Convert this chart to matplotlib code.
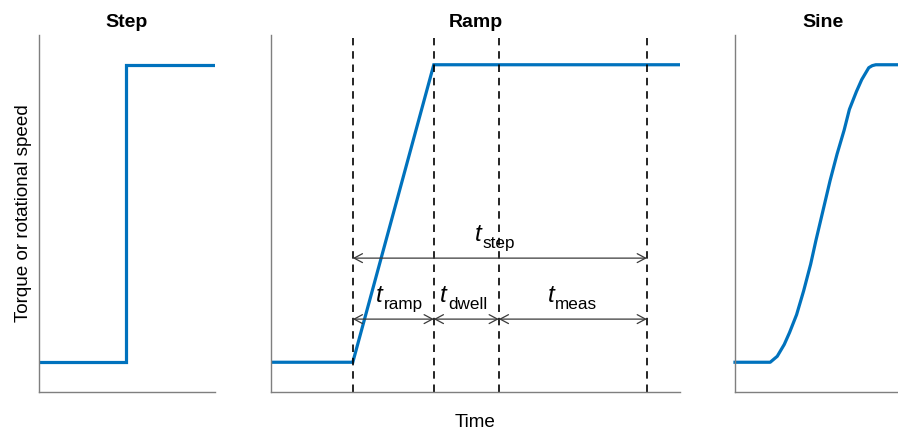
import matplotlib
matplotlib.use("Agg")
import matplotlib.pyplot as plt

plt.rcParams['font.family'] = ['Liberation Sans', 'DejaVu Sans']

# step signal
step_x = [0, 0.495, 0.495, 1.0]
step_y = [0, 0, 1, 1]

# ramp signal and its time marks
ramp_x = [0, 0.2, 0.398, 1.0]
ramp_y = [0, 0, 1, 1]
marks = [0.2, 0.398, 0.557, 0.919]  # ramp start, ramp end, dwell end, meas end
sub_names = ["ramp", "dwell", "meas"]

# sine-shaped transition
sine_x = [0, 0.20, 0.22, 0.24, 0.26, 0.28, 0.31, 0.35, 0.39, 0.43, 0.46, 0.50,
          0.54, 0.58, 0.62, 0.65, 0.69, 0.72, 0.74, 0.76, 0.78, 0.80, 1.0]
sine_y = [0, 0, 0.01, 0.02, 0.04, 0.06, 0.10, 0.16, 0.24, 0.33, 0.41, 0.51,
          0.61, 0.70, 0.78, 0.85, 0.91, 0.95, 0.97, 0.99, 0.997, 1.0, 1.0]

blue = "#0072BD"
spine_col = "#7f7f7f"

fig = plt.figure(figsize=(8.98, 4.32), dpi=100)
W, H = 898, 432
bottom = (H - 392) / H
height = 357 / H

def make_ax(left_px, width_px):
    ax = fig.add_axes([left_px / W, bottom, width_px / W, height])
    ax.set_xlim(0, 1)
    ax.set_ylim(-0.1, 1.1)
    ax.set_xticks([])
    ax.set_yticks([])
    ax.spines['top'].set_visible(False)
    ax.spines['right'].set_visible(False)
    for s in ['left', 'bottom']:
        ax.spines[s].set_color(spine_col)
        ax.spines[s].set_linewidth(1.0)
    return ax

ax1 = make_ax(39, 176)
ax2 = make_ax(271, 409)
ax3 = make_ax(735, 176)

ax1.plot(step_x, step_y, color=blue, lw=2.3, solid_joinstyle='miter')
ax1.set_title("Step", fontsize=14, fontweight='bold', pad=6)
ax1.set_ylabel("Torque or rotational speed", fontsize=13.6, labelpad=5)

ax2.plot(ramp_x, ramp_y, color=blue, lw=2.3, solid_joinstyle='miter')
ax2.set_title("Ramp", fontsize=14, fontweight='bold', pad=6)
ax2.set_xlabel("Time", fontsize=13.6, labelpad=16)
for m in marks:
    ax2.plot([m, m], [-0.1, 1.09], color='black', lw=1.2, linestyle=(0, (4.5, 3.5)))

arrow_kw = dict(arrowstyle='<->,head_length=0.6,head_width=0.32', color='#3a3a3a',
                lw=0.9, shrinkA=0, shrinkB=0)
y_step = 0.35
y_low = 0.145
ax2.annotate("", xy=(marks[0], y_step), xytext=(marks[3], y_step), arrowprops=arrow_kw)
for a, b in zip(marks[:-1], marks[1:]):
    ax2.annotate("", xy=(a, y_low), xytext=(b, y_low), arrowprops=arrow_kw)

# labels: italic t plus a lowered subscript, roughly centred over each arrow
labels = [((marks[0] + marks[3]) / 2, y_step, "step")]
labels += [((a + b) / 2, y_low, n) for a, b, n in zip(marks[:-1], marks[1:], sub_names)]
nudges = [-5, 6, -3, -1]  # pixels, to match the picture
pairs = []
for xc, yc, n in labels:
    t = ax2.annotate("t", xy=(xc, yc), xytext=(0, 17), textcoords='offset pixels',
                     fontsize=17.5, fontstyle='italic', ha='right', va='baseline')
    s = ax2.annotate(n, xy=(xc, yc), xytext=(0, 10), textcoords='offset pixels',
                     fontsize=12.3, ha='left', va='baseline')
    pairs.append((t, s))

renderer = fig.canvas.get_renderer()
for (t, s), dx in zip(pairs, nudges):
    wt = t.get_window_extent(renderer).width
    ws = s.get_window_extent(renderer).width
    shift = wt - (wt + ws) / 2 + dx
    t.xyann = (shift, 17)
    s.xyann = (shift + 1, 10)

ax3.plot(sine_x, sine_y, color=blue, lw=2.3, clip_on=False, solid_joinstyle='round')
ax3.set_title("Sine", fontsize=14, fontweight='bold', pad=6)

fig.savefig("out.png", dpi=100)
